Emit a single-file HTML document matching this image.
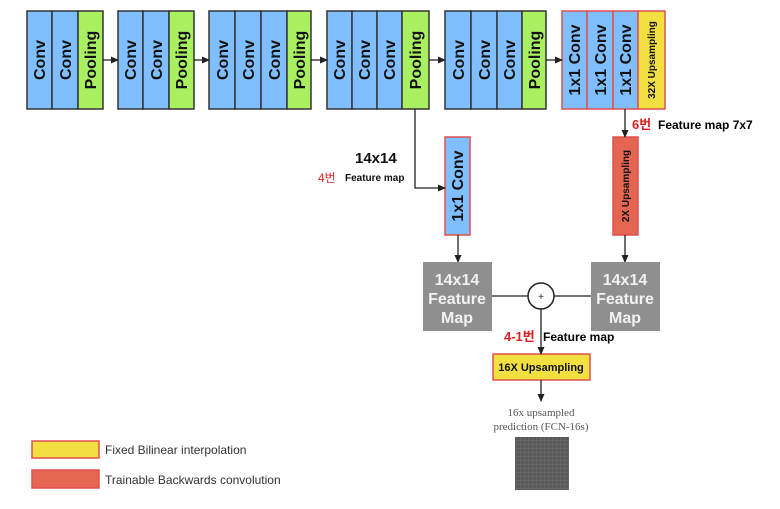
<!DOCTYPE html>
<html><head><meta charset="utf-8"><style>
html,body{margin:0;padding:0;background:#fff;width:780px;height:509px;overflow:hidden}
svg text{font-family:"Liberation Sans","Noto Sans CJK KR",sans-serif}
</style></head><body>
<svg width="780" height="509" viewBox="0 0 780 509" xmlns="http://www.w3.org/2000/svg">
<defs>
<marker id="ah" markerWidth="8" markerHeight="8" refX="7" refY="4" orient="auto" markerUnits="userSpaceOnUse"><path d="M0,0.5 L8,4 L0,7.5 z" fill="#222"/></marker>
<pattern id="grid" width="4" height="4" patternUnits="userSpaceOnUse"><rect width="4" height="4" fill="#5a5a5a"/><path d="M0,0 H4 M0,0 V4" stroke="#777" stroke-width="0.7"/></pattern>
</defs>
<g stroke="#333" stroke-width="1.5" font-weight="bold" font-size="16">
<rect x="27" y="11" width="25" height="98" fill="#7fbfff"/>
<rect x="52" y="11" width="26" height="98" fill="#7fbfff"/>
<rect x="78" y="11" width="25" height="98" fill="#a8f060"/>
<rect x="118" y="11" width="25" height="98" fill="#7fbfff"/>
<rect x="143" y="11" width="26" height="98" fill="#7fbfff"/>
<rect x="169" y="11" width="25" height="98" fill="#a8f060"/>
<rect x="209" y="11" width="26" height="98" fill="#7fbfff"/>
<rect x="235" y="11" width="26" height="98" fill="#7fbfff"/>
<rect x="261" y="11" width="26" height="98" fill="#7fbfff"/>
<rect x="287" y="11" width="24" height="98" fill="#a8f060"/>
<rect x="327" y="11" width="25" height="98" fill="#7fbfff"/>
<rect x="352" y="11" width="25" height="98" fill="#7fbfff"/>
<rect x="377" y="11" width="25" height="98" fill="#7fbfff"/>
<rect x="402" y="11" width="27" height="98" fill="#a8f060"/>
<rect x="445" y="11" width="26" height="98" fill="#7fbfff"/>
<rect x="471" y="11" width="26" height="98" fill="#7fbfff"/>
<rect x="497" y="11" width="25" height="98" fill="#7fbfff"/>
<rect x="522" y="11" width="24" height="98" fill="#a8f060"/>
</g>
<g stroke="#e05050" stroke-width="1.5">
<rect x="562" y="11" width="25" height="98" fill="#7fbfff"/>
<rect x="587" y="11" width="26" height="98" fill="#7fbfff"/>
<rect x="613" y="11" width="25" height="98" fill="#7fbfff"/>
<rect x="638" y="11" width="27" height="98" fill="#f2df40"/>
<rect x="445" y="137" width="25" height="98" fill="#7fbfff"/>
<rect x="613" y="137" width="25" height="98" fill="#e36552"/>
<rect x="493" y="354" width="97" height="26" fill="#f2df40"/>
<rect x="32" y="441" width="67" height="17" fill="#f2df40"/>
<rect x="32" y="470" width="67" height="18" fill="#e36552"/>
</g>
<g font-weight="bold" font-size="16" fill="#111" text-anchor="middle">
<text transform="translate(45,60) rotate(-90)">Conv</text>
<text transform="translate(71,60) rotate(-90)">Conv</text>
<text transform="translate(96,60) rotate(-90)">Pooling</text>
<text transform="translate(136,60) rotate(-90)">Conv</text>
<text transform="translate(162,60) rotate(-90)">Conv</text>
<text transform="translate(187,60) rotate(-90)">Pooling</text>
<text transform="translate(228,60) rotate(-90)">Conv</text>
<text transform="translate(254,60) rotate(-90)">Conv</text>
<text transform="translate(280,60) rotate(-90)">Conv</text>
<text transform="translate(305,60) rotate(-90)">Pooling</text>
<text transform="translate(345,60) rotate(-90)">Conv</text>
<text transform="translate(370,60) rotate(-90)">Conv</text>
<text transform="translate(395,60) rotate(-90)">Conv</text>
<text transform="translate(421,60) rotate(-90)">Pooling</text>
<text transform="translate(464,60) rotate(-90)">Conv</text>
<text transform="translate(490,60) rotate(-90)">Conv</text>
<text transform="translate(515,60) rotate(-90)">Conv</text>
<text transform="translate(540,60) rotate(-90)">Pooling</text>
<text transform="translate(580,60) rotate(-90)">1x1 Conv</text>
<text transform="translate(606,60) rotate(-90)">1x1 Conv</text>
<text transform="translate(631,60) rotate(-90)">1x1 Conv</text>
<text transform="translate(463,186) rotate(-90)">1x1 Conv</text>
<text transform="translate(655,60) rotate(-90)" font-size="10">32X Upsampling</text>
<text transform="translate(629,186) rotate(-90)" font-size="10">2X Upsampling</text>
<text x="541" y="371" font-size="11">16X Upsampling</text>
</g>
<g stroke="#222" stroke-width="1.3" fill="none" marker-end="url(#ah)">
<line x1="103" y1="60" x2="118" y2="60"/>
<line x1="194" y1="60" x2="209" y2="60"/>
<line x1="311" y1="60" x2="327" y2="60"/>
<line x1="429" y1="60" x2="445" y2="60"/>
<line x1="546" y1="60" x2="562" y2="60"/>
<path d="M415,109 V188 H445"/>
<line x1="625" y1="109" x2="625" y2="137"/>
<line x1="458" y1="235" x2="458" y2="262"/>
<line x1="625" y1="235" x2="625" y2="262"/>
<line x1="541" y1="309" x2="541" y2="354"/>
<line x1="541" y1="380" x2="541" y2="401"/>
</g>
<g stroke="#222" stroke-width="1.3">
<line x1="492" y1="296" x2="528" y2="296"/>
<line x1="554" y1="296" x2="591" y2="296"/>
</g>
<circle cx="541" cy="296" r="13" fill="#fff" stroke="#222" stroke-width="1.5"/>
<text x="541" y="300" font-size="10" text-anchor="middle" fill="#222">+</text>
<rect x="423" y="262" width="69" height="69" fill="#8f8f8f"/>
<rect x="591" y="262" width="69" height="69" fill="#8f8f8f"/>
<g fill="#f2f2f2" font-size="16" font-weight="bold" text-anchor="middle">
<text x="457" y="285">14x14</text><text x="457" y="304">Feature</text><text x="457" y="323">Map</text>
<text x="625" y="285">14x14</text><text x="625" y="304">Feature</text><text x="625" y="323">Map</text>
</g>
<text x="355" y="163" font-size="15" font-weight="bold" fill="#111">14x14</text>
<text x="318" y="182" font-size="12" fill="#e02020">4번</text>
<text x="345" y="181" font-size="10" font-weight="bold" fill="#111">Feature map</text>
<text x="632" y="129" font-size="13" font-weight="bold" fill="#e02020">6번</text>
<text x="658" y="129" font-size="12" font-weight="bold" fill="#000">Feature map 7x7</text>
<text x="504" y="341" font-size="13" font-weight="bold" fill="#e02020">4-1번</text>
<text x="543" y="341" font-size="12" font-weight="bold" fill="#000">Feature map</text>
<g font-size="11" fill="#555" text-anchor="middle">
<text x="541" y="416" style="font-family:'Liberation Serif',serif">16x upsampled</text>
<text x="541" y="430" style="font-family:'Liberation Serif',serif">prediction (FCN-16s)</text>
</g>
<rect x="515" y="437" width="54" height="53" fill="url(#grid)"/>
<g font-size="12" fill="#333">
<text x="105" y="454">Fixed Bilinear interpolation</text>
<text x="105" y="484">Trainable Backwards convolution</text>
</g>
</svg>
</body></html>
